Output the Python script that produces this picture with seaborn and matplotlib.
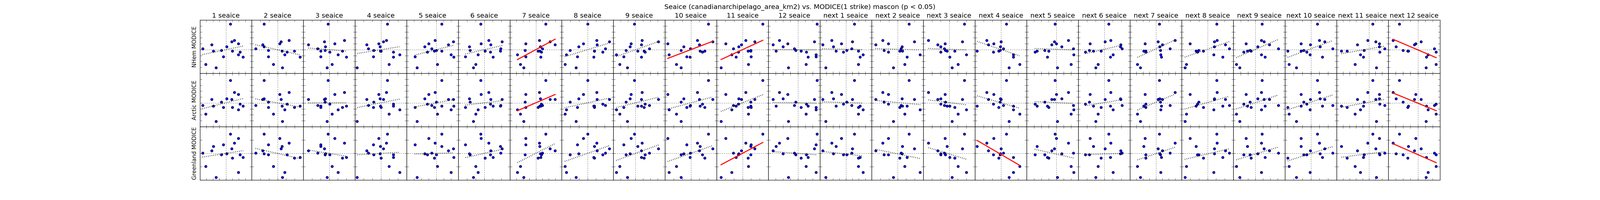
import numpy as np
import matplotlib
matplotlib.use("Agg")
import matplotlib.pyplot as plt
import seaborn as sns

plt.style.use("classic")
plt.rcParams["figure.facecolor"] = "white"
plt.rcParams["savefig.facecolor"] = "white"
plt.rcParams["font.family"] = ["DejaVu Sans"]

# MODICE anomalies per year (three regions), same year order as the sea ice lists
nhem_modice = [4.31, 1.56, 0.83, 0.15, 1.33, -0.24, 0.99, -0.13,
               0.49, -0.24, -3.06, -2.49, -0.86, -1.26, -0.41, -1.20]
arctic_modice = [3.84, 1.82, 0.63, -0.38, 0.63, -0.73, 1.48, 0.19,
                 0.73, -0.51, -3.08, -1.86, -1.11, -0.51, -0.16, -0.73]
greenland_modice = [1.44, 0.77, 0.19, 0.02, 0.34, -0.36, 1.13, -0.11,
                    -0.03, 0.52, -1.81, -0.98, -1.43, -0.30, -0.11, 0.64]

# monthly sea ice anomalies (canadian archipelago), one value per year
seaice_jan = [0.72, 1.33, -2.17, -3.61, 0.91, 1.03, 1.96, -0.69,
              0.14, -1.96, -1.50, -3.10, 1.96, 2.67, 2.17, -0.38]
seaice_feb = [-1.55, 1.32, -1.74, -2.55, 0.41, 1.94, 0.27, -1.08,
              -1.55, 0.54, 0.58, -0.50, 0.85, 2.63, 1.11, -1.06]
seaice_mar = [-0.12, 1.78, -2.41, -1.32, -0.55, 1.51, 0.62, -0.48,
              -0.45, -0.97, -0.27, 0.31, 1.01, 2.01, 0.04, -0.97]
seaice_apr = [0.77, 0.65, -1.66, -1.47, 0.30, 0.00, -0.25, -0.85,
              -0.08, -0.05, -2.75, 0.93, 2.17, 1.47, 1.45, -0.89]
seaice_may = [0.75, -0.14, 1.66, -0.63, 2.30, -0.23, -1.04, 0.00,
              -1.57, 0.72, -2.58, 0.14, 1.99, 2.35, -1.22, -2.89]
seaice_jun = [-0.39, 0.53, 0.74, 1.90, 2.09, 0.08, -0.35, -1.63,
              -1.72, 1.86, -1.24, -0.97, -0.70, 1.01, 0.70, -2.17]
seaice_jul = [1.50, 0.52, 2.99, 1.03, 2.20, 0.34, -1.55, -1.70,
              0.72, 0.60, -1.86, -2.41, -2.84, 0.76, 0.83, -1.60]
seaice_aug = [0.00, 1.05, 1.12, 2.06, 2.52, 0.81, -0.50, -2.05,
              -1.01, 0.81, -1.32, -2.63, -2.44, 0.72, 1.78, -1.20]
seaice_sep = [-0.17, 0.89, 0.78, 1.88, 3.10, 1.14, -0.60, -1.30,
              -0.74, 0.29, -1.10, -2.14, -2.61, 0.78, 1.30, -1.60]
seaice_oct = [2.04, 0.74, 0.99, -0.04, 2.52, 1.59, -2.68, -1.14,
              -0.83, 1.05, -1.16, -1.70, -2.52, -0.09, 1.35, -0.50]
seaice_nov = [2.36, 0.35, -0.12, -1.05, 1.43, 0.62, -1.97, 0.93,
              -0.43, 0.93, -2.49, 0.66, -1.26, -0.77, -0.50, 0.97]
seaice_dec = [2.58, -2.50, -3.36, -0.47, 2.24, 0.41, -1.37, -0.29,
              -2.00, -2.94, -1.27, 1.11, 2.48, 1.39, 1.16, 2.48]

seaice_months = [seaice_jan, seaice_feb, seaice_mar, seaice_apr, seaice_may, seaice_jun,
                 seaice_jul, seaice_aug, seaice_sep, seaice_oct, seaice_nov, seaice_dec]

row_labels = ["NHem MODICE", "Arctic MODICE", "Greenland MODICE"]
col_titles = ["%d seaice" % m for m in range(1, 13)] + ["next %d seaice" % m for m in range(1, 13)]

# panels where the fit is significant (p < 0.05): (row, column)
significant = [(0, 6), (0, 9), (0, 10), (0, 23),
               (1, 6), (1, 23),
               (2, 10), (2, 15), (2, 23)]

# axis ranges per column: (low, high, number of tick intervals)
x_ranges = [(-4, 4, 8), (-3, 3, 6), (-3, 3, 6), (-3, 3, 6), (-4, 3, 7), (-3, 3, 6),
            (-4, 4, 8), (-3, 3, 6), (-3, 4, 7), (-3, 3, 6), (-3, 3, 6), (-4, 3, 7),
            (-4, 4, 8), (-3, 3, 6), (-3, 3, 6), (-3, 3, 6), (-4, 3, 7), (-3, 3, 6),
            (-4, 4, 8), (-3, 3, 6), (-3, 4, 7), (-3, 3, 6), (-2.92, 1.76, 8), (-4, 3, 7)]
y_ranges = [(-4, 5, 9), (-4, 5, 9), (-2, 2, 4)]

modice_rows = [nhem_modice, arctic_modice, greenland_modice]

fig, axes = plt.subplots(3, 24, figsize=(48, 6), dpi=100)
fig.subplots_adjust(left=0.125, right=0.9, bottom=0.1, top=0.9, wspace=0, hspace=0)

for row in range(3):
    modice = np.array(modice_rows[row])
    for col in range(24):
        ax = axes[row, col]
        seaice = np.array(seaice_months[col % 12])
        if col < 12:
            x, y = seaice, modice
        else:
            # following year's month against this year's MODICE
            x, y = seaice[1:], modice[:-1]

        sig = (row, col) in significant
        ax.axhline(0, color="black", linestyle=":", linewidth=1, zorder=0.5)
        ax.axvline(0, color="black", linestyle=":", linewidth=1, zorder=0.5)
        sns.regplot(
            x=x, y=y, ax=ax, ci=None, truncate=True, color="blue",
            scatter_kws=dict(s=28, color="blue", edgecolor="black",
                             linewidths=0.8, alpha=1, zorder=2),
            line_kws=dict(color="red" if sig else "black",
                          linestyle="-" if sig else ":",
                          linewidth=2.2, zorder=3),
        )

        lo, hi, n = x_ranges[col]
        ax.set_xlim(lo, hi)
        ax.set_xticks(np.linspace(lo, hi, n + 1))
        ylo, yhi, yn = y_ranges[row]
        ax.set_ylim(ylo, yhi)
        ax.set_yticks(np.linspace(ylo, yhi, yn + 1))
        ax.tick_params(labelbottom=False, labelleft=False, labeltop=False,
                       labelright=False, direction="in", top=True, right=True)
        ax.set_xlabel("")
        ax.set_ylabel("")

        if row == 0:
            ax.set_title(col_titles[col], fontsize=14.4)
        if col == 0:
            ax.set_ylabel(row_labels[row], fontsize=12)

fig.suptitle("Seaice (canadianarchipelago_area_km2) vs. MODICE(1 strike) mascon (p < 0.05)",
             fontsize=14.4)

fig.savefig("out.png", dpi=100)
